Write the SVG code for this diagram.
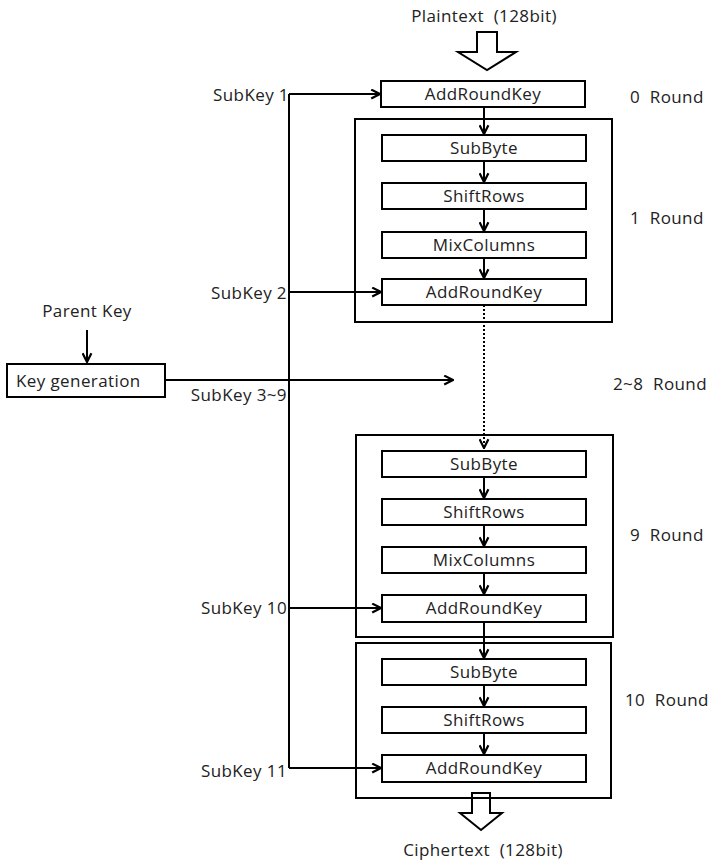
<svg xmlns="http://www.w3.org/2000/svg" width="712" height="861" viewBox="0 0 712 861">
<style>
text{font-family:"Open Sans","Noto Sans",sans-serif;font-size:17px;letter-spacing:0.4px;fill:#222;white-space:pre}
.c{text-anchor:middle}
.r{text-anchor:end}
.box{fill:#fff;stroke:#000;stroke-width:2}
.ln{fill:none;stroke:#000;stroke-width:2}
</style>
<defs>
<marker id="ah" viewBox="0 0 10 10" refX="9" refY="5" markerWidth="5.5" markerHeight="5.5" orient="auto" markerUnits="strokeWidth">
<path d="M1,1 L9,5 L1,9" fill="none" stroke="#000" stroke-width="2"/>
</marker>
</defs>
<rect width="712" height="861" fill="#fff"/>
<g id="round-boxes">
<rect class="box" x="355" y="119" width="257" height="203"/>
<rect class="box" x="356" y="435" width="257" height="202"/>
<rect class="box" x="356" y="643" width="255" height="155"/>
</g>
<g id="plaintext">
<text class="c" x="484" y="22">Plaintext  (128bit)</text>
<path class="ln" d="M477,32 H497 V52 H516 L487,70 L458,52 H477 Z" stroke-width="1.8"/>
</g>
<g id="ark0"><rect class="box" x="381" y="81" width="204" height="26"/><text class="c" x="483" y="100">AddRoundKey</text></g>
<g id="sb1"><rect class="box" x="382" y="135" width="204" height="26"/><text class="c" x="484" y="154">SubByte</text></g>
<g id="sr1"><rect class="box" x="382" y="183" width="204" height="26"/><text class="c" x="484" y="202">ShiftRows</text></g>
<g id="mc1"><rect class="box" x="382" y="232" width="204" height="26"/><text class="c" x="484" y="251">MixColumns</text></g>
<g id="ark1"><rect class="box" x="382" y="279" width="204" height="26"/><text class="c" x="484" y="298">AddRoundKey</text></g>
<g id="sb9"><rect class="box" x="382" y="451" width="204" height="26"/><text class="c" x="484" y="470">SubByte</text></g>
<g id="sr9"><rect class="box" x="382" y="499" width="204" height="26"/><text class="c" x="484" y="518">ShiftRows</text></g>
<g id="mc9"><rect class="box" x="382" y="547" width="204" height="26"/><text class="c" x="484" y="566">MixColumns</text></g>
<g id="ark9"><rect class="box" x="382" y="595" width="204" height="27"/><text class="c" x="484" y="614">AddRoundKey</text></g>
<g id="sb10"><rect class="box" x="382" y="659" width="204" height="26"/><text class="c" x="484" y="678">SubByte</text></g>
<g id="sr10"><rect class="box" x="382" y="707" width="204" height="26"/><text class="c" x="484" y="726">ShiftRows</text></g>
<g id="ark10"><rect class="box" x="382" y="755" width="204" height="27"/><text class="c" x="484" y="774">AddRoundKey</text></g>
<g id="keygen"><rect class="box" x="7" y="364" width="158" height="33"/><text x="16" y="387">Key generation</text></g>
<g id="parentkey"><text class="c" x="87" y="317">Parent Key</text></g>
<g id="ciphertext">
<path class="ln" d="M472,793 H490 V813 H502 L481,830 L460,813 H472 Z" stroke-width="1.8"/>
<text class="c" x="483" y="856">Ciphertext  (128bit)</text>
</g>
<g id="labels">
<text class="r" x="289" y="101">SubKey 1</text>
<text class="r" x="287" y="299">SubKey 2</text>
<text class="r" x="287" y="401">SubKey 3~9</text>
<text class="r" x="287" y="614">SubKey 10</text>
<text class="r" x="287" y="777">SubKey 11</text>
<text x="630" y="103">0  Round</text>
<text x="630" y="224">1  Round</text>
<text x="613" y="390">2~8  Round</text>
<text x="630" y="541">9  Round</text>
<text x="625" y="706">10  Round</text>
</g>
<g id="connectors">
<path class="ln" d="M289,94 V768"/>
<path class="ln" d="M289,94 H380" marker-end="url(#ah)"/>
<path class="ln" d="M289,292 H381" marker-end="url(#ah)"/>
<path class="ln" d="M289,608 H381" marker-end="url(#ah)"/>
<path class="ln" d="M289,768 H381" marker-end="url(#ah)"/>
<path class="ln" d="M165,380 H453" marker-end="url(#ah)"/>
<path class="ln" d="M87,330 V362" marker-end="url(#ah)"/>
<path class="ln" d="M484,107 V134" marker-end="url(#ah)"/>
<path class="ln" d="M484,161 V182" marker-end="url(#ah)"/>
<path class="ln" d="M484,209 V231" marker-end="url(#ah)"/>
<path class="ln" d="M484,258 V278" marker-end="url(#ah)"/>
<path class="ln" d="M484,305 V448" stroke-dasharray="2,2" stroke-width="1.8" marker-end="url(#ah)"/>
<path class="ln" d="M484,477 V498" marker-end="url(#ah)"/>
<path class="ln" d="M484,525 V546" marker-end="url(#ah)"/>
<path class="ln" d="M484,573 V594" marker-end="url(#ah)"/>
<path class="ln" d="M484,622 V658" marker-end="url(#ah)"/>
<path class="ln" d="M484,685 V706" marker-end="url(#ah)"/>
<path class="ln" d="M484,733 V754" marker-end="url(#ah)"/>
</g>
</svg>
